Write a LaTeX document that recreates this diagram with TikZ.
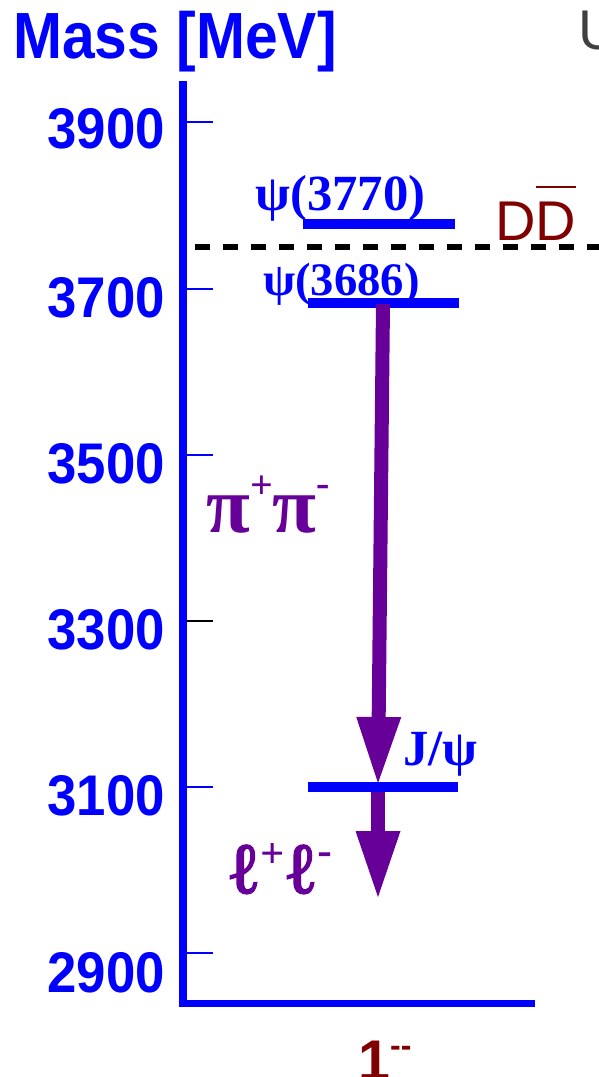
\documentclass[tikz,border=0pt]{standalone}
\usepackage{fontspec}
\setmainfont{Liberation Serif}
\newfontfamily\hel{Liberation Sans}
\newfontfamily\ellfont[FakeBold=2.5]{Liberation Serif}
\usetikzlibrary{arrows.meta}
\definecolor{massblue}{RGB}{0,0,255}
\definecolor{decaypurple}{RGB}{102,0,153}
\definecolor{thrred}{RGB}{128,0,0}
\newcommand\upsc[3][30]{\raisebox{#2}{\fontsize{#1}{#1}\selectfont #3}}
\tikzset{
  txt/.style={inner sep=0,anchor=base west},
  ticklbl/.style={inner sep=0,anchor=east,xscale=0.92,text=massblue,font=\hel\bfseries\fontsize{43}{43}\selectfont},
  statelbl/.style={txt,text=massblue,font=\bfseries\fontsize{38}{38}\selectfont},
  decaylbl/.style={txt,text=decaypurple,font=\bfseries\fontsize{60}{60}\selectfont},
  level/.style={massblue,line width=7.5pt},
  decay/.style={decaypurple,line width=10.5pt,-{Triangle[width=33.75pt,length=49.5pt,line width=0pt]}},
  thresh/.style={black,line width=4.5pt,dash pattern=on 11.25pt off 9.75pt}
}

\begin{document}
\begin{tikzpicture}[x=0.75pt,y=-0.75pt]
\useasboundingbox (0,0) rectangle (599,1077);

\coordinate (axtop) at (183,81);
\coordinate (axorig) at (183,1003.5);
\coordinate (axend) at (535,1003.5);
\draw[massblue,line width=5.4pt] (axtop) -- (axorig) -- (axend);
\node[txt,xscale=0.9,text=massblue,font=\hel\bfseries\fontsize{49}{49}\selectfont] (mass) at (13,59) {Mass [MeV]};

\foreach \m/\yy/\ly/\tc in {3900/122/129/massblue,3700/289/298/massblue,3500/455/464/massblue,3300/621/630/black,3100/787/796/massblue,2900/953/973/massblue} {
  \draw[\tc,line width=1.5pt] (187,\yy) -- (213,\yy);
  \node[ticklbl] (lbl\m) at (165,\ly) {\m};
}

\coordinate (ddL) at (195,247);
\coordinate (ddR) at (615,247);
\draw[thresh] (ddL) -- (ddR);
\node[txt,text=thrred,font=\hel\fontsize{42}{42}\selectfont] (dd) at (495,240) {D\makebox[0pt][l]{\rule[0.92em]{0.72em}{2.2pt}}D};

\draw[level] (303,224) coordinate (psiiiL) -- (455,224) coordinate (psiiiR);
\draw[level] (308,303) coordinate (psiiL) -- (459,303) coordinate (psiiR);
\draw[level] (308,787) coordinate (jpsiL) -- (458,787) coordinate (jpsiR);
\node[statelbl] (psi3770) at (255,210) {ψ(3770)};
\node[statelbl,font=\bfseries\fontsize{35}{35}\selectfont] (psi3686) at (263,295) {ψ(3686)};
\node[statelbl] (jpsi) at (403,765) {J/ψ};

\coordinate (psiiTop) at (383,304);
\coordinate (jpsiTip) at (378,783);
\coordinate (jpsiBot) at (378,792);
\coordinate (llTip) at (378,897);
\draw[decay] (psiiTop) -- (jpsiTip);
\draw[decay] (jpsiBot) -- (llTip);
\node[decaylbl] (pipi) at (206,532) {π\upsc{25pt}{+}π\upsc{27pt}{-}};
\node[decaylbl,font=\ellfont\fontsize{54}{54}\selectfont] (ll) at (226,893) {ℓ\upsc{20pt}{+}ℓ\upsc{22pt}{-}};

\node[txt,text=thrred,font=\hel\bfseries\fontsize{43}{43}\selectfont] (jpc) at (358,1080) {1\upsc[24]{18pt}{-{}-}};
\node[txt,text=black!75,font=\hel\fontsize{42}{42}\selectfont] (cut) at (578,50) {U};
\end{tikzpicture}
\end{document}
